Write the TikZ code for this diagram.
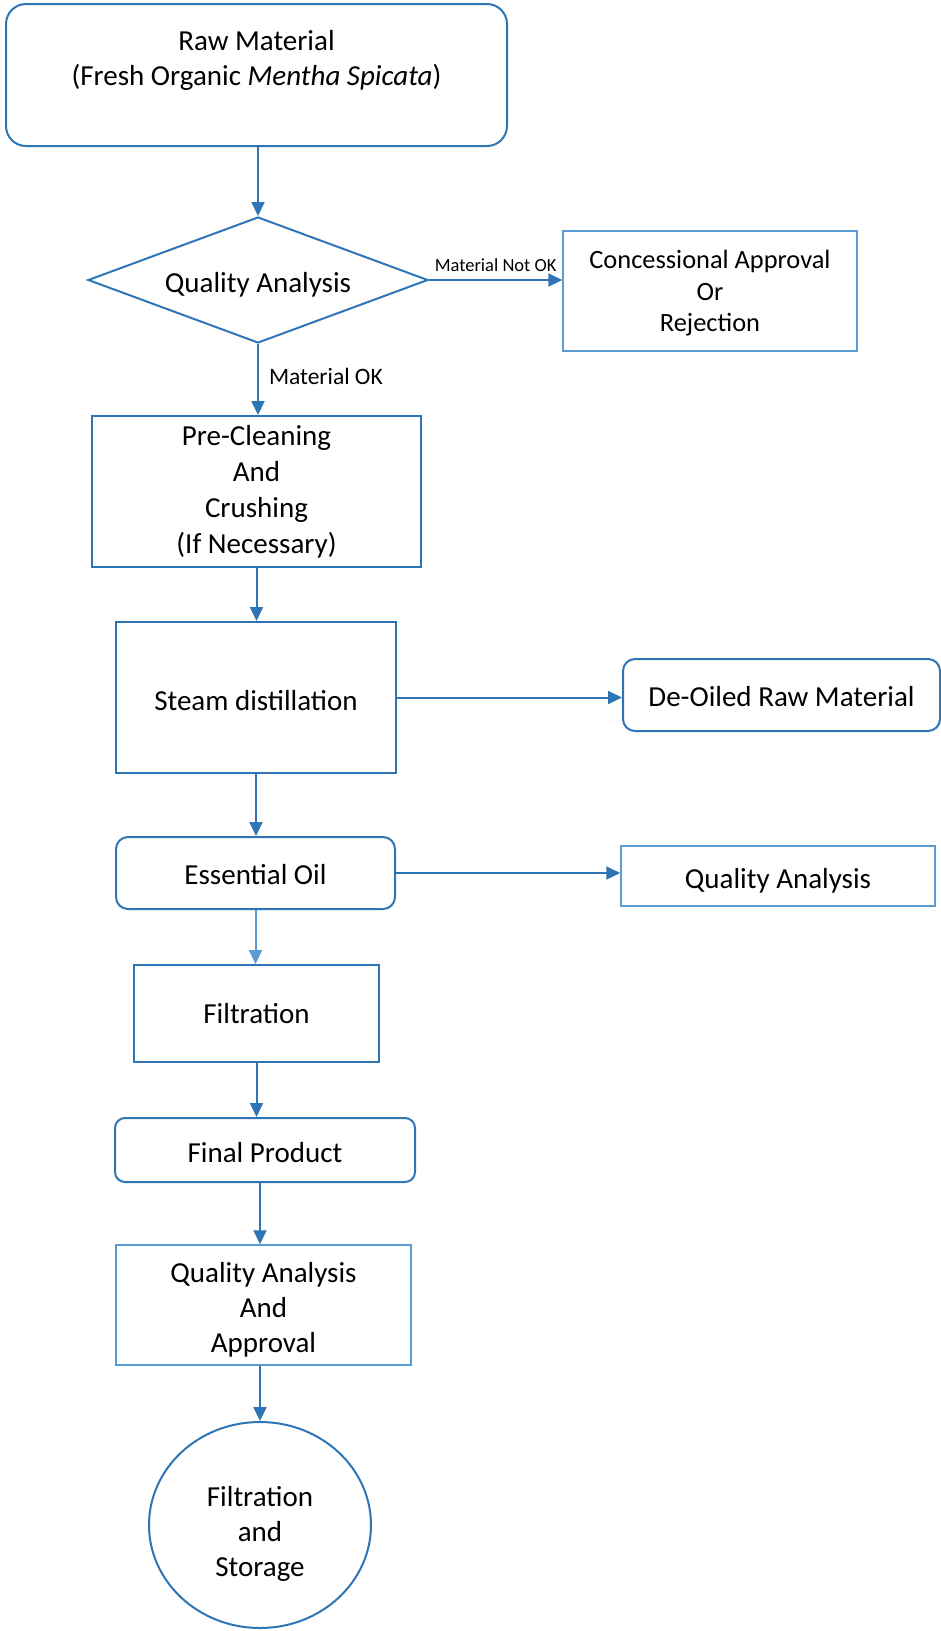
\documentclass[tikz,border=0pt]{standalone}
\usepackage{fontspec}
\setmainfont{Carlito}
\usepackage{tikz}
\usetikzlibrary{arrows.meta,shapes.geometric,positioning}
\definecolor{flowblue}{HTML}{2E75B6}
\definecolor{lightblue}{HTML}{5B9BD5}
\begin{document}
\begin{tikzpicture}[x=1pt,y=-1pt,
                    base/.style={draw=flowblue, line width=2pt, align=center, inner sep=0pt,
                                 font=\fontsize{29}{35}\selectfont},
                    box/.style={base, rectangle},
                    rbox/.style={base, rounded corners=12pt},
                    thinbox/.style={base, draw=lightblue, line width=1.5pt},
                    arr/.style={draw=flowblue, line width=2pt, -{Triangle[length=14pt,width=13pt]}},
                    lbl/.style={font=\fontsize{23.5}{27}\selectfont, inner sep=0pt}]
                    \useasboundingbox (0,0) rectangle (941,1631);
                    \node[rbox, rounded corners=20pt, minimum width=501pt, minimum height=142pt] (raw) at (256.5,75)
                        {Raw Material\\(Fresh Organic \textit{Mentha Spicata})\\~};
                    \node[base, diamond, aspect=2.7, text height=30pt, minimum width=340pt, minimum height=126pt] (qa) at (258,280)
                        {Quality Analysis};
                    \node[thinbox, font=\fontsize{26.4}{31.5}\selectfont, text height=86pt, minimum width=294pt, minimum height=120pt] (reject) at (710,291)
                        {Concessional Approval\\Or\\Rejection};
                    \node[box, font=\fontsize{29}{36}\selectfont, minimum width=329pt, minimum height=151pt] (clean) at (256.5,491.5)
                        {Pre-Cleaning\\And\\Crushing\\(If Necessary)};
                    \node[box, text height=26pt, minimum width=280pt, minimum height=151pt] (steam) at (256,697.5) {Steam distillation};
                    \node[rbox, text height=24pt, minimum width=317pt, minimum height=72pt] (deoil) at (781.5,695) {De-Oiled Raw Material};
                    \node[rbox, text height=24pt, minimum width=279pt, minimum height=72pt] (oil) at (255.5,873) {Essential Oil};
                    \node[thinbox, text height=30pt, minimum width=314pt, minimum height=60pt] (oilqa) at (778,876) {Quality Analysis};
                    \node[box, minimum width=245pt, minimum height=97pt] (filter) at (256.5,1013.5) {Filtration};
                    \node[rbox, rounded corners=10pt, text height=26pt, minimum width=300pt, minimum height=64pt] (product) at (265,1150) {Final Product};
                    \node[thinbox, text height=100pt, minimum width=295pt, minimum height=120pt] (approval) at (263.5,1305)
                        {Quality Analysis\\And\\Approval};
                    \node[base, ellipse, text height=107pt, minimum width=222pt, minimum height=206pt] (storage) at (260,1525)
                        {Filtration\\and\\Storage};
                    \draw[arr] (raw.south -| qa.north) -- (qa.north);
                    \draw[arr] (qa.east) -- (qa.east -| reject.west)
                        node[lbl, midway, above=7pt, font=\fontsize{18.5}{22}\selectfont] {Material Not OK};
                    \draw[arr] (qa.south) -- (qa.south |- clean.north)
                        node[lbl, pos=0.45, right=10pt] {Material OK};
                    \draw[arr] (clean.south) -- (clean.south |- steam.north);
                    \draw[arr] (steam.east) -- (steam.east -| deoil.west);
                    \draw[arr] (steam.south) -- (steam.south |- oil.north);
                    \draw[arr] (oil.east) -- (oil.east -| oilqa.west);
                    \draw[arr, draw=lightblue] (oil.south) -- (oil.south |- filter.north);
                    \draw[arr] (filter.south) -- (filter.south |- product.north);
                    \draw[arr] (product.south -| storage.north) -- (storage.north |- approval.north);
                    \draw[arr] (approval.south -| storage.north) -- (storage.north);
                \end{tikzpicture}
\end{document}
